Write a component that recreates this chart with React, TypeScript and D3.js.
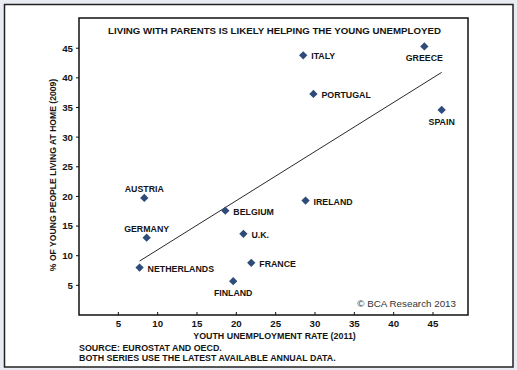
import React from 'react';
import * as d3 from 'd3';

// youth unemployment rate (2011) vs % of young people living at home (2009)
const countries = ['ITALY', 'GREECE', 'PORTUGAL', 'SPAIN', 'AUSTRIA', 'BELGIUM', 'IRELAND', 'GERMANY', 'U.K.', 'FRANCE', 'NETHERLANDS', 'FINLAND'];
const unemployment = [28.5, 43.9, 29.8, 46.1, 8.3, 18.6, 28.8, 8.6, 20.9, 21.9, 7.7, 19.6];
const livingAtHome = [43.8, 45.3, 37.3, 34.6, 19.75, 17.6, 19.3, 13.05, 13.7, 8.8, 8.0, 5.7];
const labelSide = ['right', 'below', 'right', 'below', 'above', 'right', 'right', 'above', 'right', 'right', 'right', 'below'];

const xTicks = [5, 10, 15, 20, 25, 30, 35, 40, 45];
const yTicks = [5, 10, 15, 20, 25, 30, 35, 40, 45];

const W = 517, H = 370;
const plot = { left: 79, top: 18, right: 468, bottom: 315 };
const navy = '#2e4c7a';
const ink = '#141414';
const font = 'Arial, "Liberation Sans", Helvetica, sans-serif';

// least squares fit
function fit(xs: number[], ys: number[]) {
  const mx = d3.mean(xs) as number, my = d3.mean(ys) as number;
  let sxy = 0, sxx = 0;
  xs.forEach((x, i) => { sxy += (x - mx) * (ys[i] - my); sxx += (x - mx) * (x - mx); });
  const slope = sxy / sxx;
  return { slope, intercept: my - slope * mx };
}

const App = () => {
  const x = d3.scaleLinear().domain([0, 49.45]).range([plot.left, plot.right]);
  const y = d3.scaleLinear().domain([0, 50.1]).range([plot.bottom, plot.top]);

  const { slope, intercept } = fit(unemployment, livingAtHome);
  const [x0, x1] = d3.extent(unemployment) as [number, number];
  const trend = d3.line<number>().x(d => x(d)).y(d => y(slope * d + intercept))([x0, x1]);

  const diamond = d3.symbol().type(d3.symbolDiamond2).size(44)();

  return (
    <svg width={W} height={H} style={{ position: 'absolute', left: 0, top: 0, fontFamily: font }}>
      <rect x={0} y={0} width={W} height={H} fill="#e9edf3" />
      <rect x={4.5} y={4.5} width={508.5} height={362.5} fill="#fff" stroke="#222" strokeWidth={1.5} />

      <rect x={plot.left} y={plot.top} width={plot.right - plot.left} height={plot.bottom - plot.top}
        fill="none" stroke="#111" strokeWidth={1.5} />

      <text x={274.5} y={34} textAnchor="middle" fontSize={9.7} fontWeight="bold" fill={ink}>
        LIVING WITH PARENTS IS LIKELY HELPING THE YOUNG UNEMPLOYED
      </text>

      {yTicks.map(t => (
        <g key={'y' + t}>
          <line x1={plot.left - 3} x2={plot.left} y1={y(t)} y2={y(t)} stroke="#111" />
          <text x={plot.left - 6} y={y(t) + 3.4} textAnchor="end" fontSize={9.7} fontWeight="bold" fill={ink}>{t}</text>
        </g>
      ))}
      {xTicks.map(t => (
        <g key={'x' + t}>
          <line x1={x(t)} x2={x(t)} y1={plot.bottom - 3} y2={plot.bottom} stroke="#111" />
          <text x={x(t)} y={plot.bottom + 12} textAnchor="middle" fontSize={9.7} fontWeight="bold" fill={ink}>{t}</text>
        </g>
      ))}

      <text x={274.5} y={339} textAnchor="middle" fontSize={8.9} fontWeight="bold" fill={ink}>YOUTH UNEMPLOYMENT RATE (2011)</text>
      <text transform="translate(56,175) rotate(-90)" textAnchor="middle" fontSize={8.6} fontWeight="bold" fill={ink}>
        % OF YOUNG PEOPLE LIVING AT HOME (2009)
      </text>

      <path d={trend ?? ''} fill="none" stroke="#111" strokeWidth={0.9} />

      {countries.map((c, i) => {
        const px = x(unemployment[i]), py = y(livingAtHome[i]);
        const side = labelSide[i];
        const lx = side === 'right' ? px + 8 : px;
        const ly = side === 'right' ? py + 4 : side === 'above' ? py - 6 : py + 15;
        return (
          <g key={c}>
            <path d={diamond ?? ''} transform={`translate(${px},${py})`} fill={navy} />
            <text x={lx} y={ly} textAnchor={side === 'right' ? 'start' : 'middle'} fontSize={8.8} fontWeight="bold" fill={ink}>{c}</text>
          </g>
        );
      })}

      <text x={456} y={307} textAnchor="end" fontSize={9.8} fill="#333">© BCA Research 2013</text>

      <text x={79} y={351} fontSize={8.9} fontWeight="bold" fill={ink}>SOURCE: EUROSTAT AND OECD.</text>
      <text x={79} y={361} fontSize={8.9} fontWeight="bold" fill={ink}>BOTH SERIES USE THE LATEST AVAILABLE ANNUAL DATA.</text>
    </svg>
  );
};

export default App;
